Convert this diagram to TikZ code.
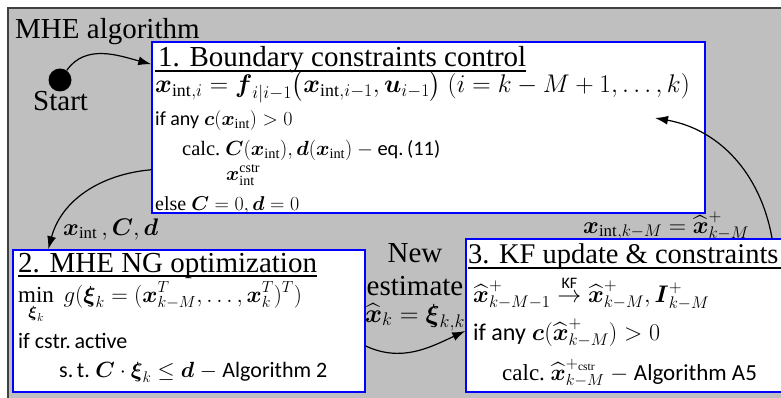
\RequirePackage{fix-cm}
\documentclass[tikz,border=0pt]{standalone}
\usepackage{amsmath}
\usepackage{fontspec}
\setmainfont{Liberation Serif}
\newfontfamily\carl{Carlito}
\usetikzlibrary{arrows.meta}
\newcommand{\bx}{\boldsymbol{x}}
\newcommand{\hx}{\widehat{\boldsymbol{x}}}
\newcommand{\xint}{\boldsymbol{x}_{\mathrm{int}}}
\begin{document}
\begin{tikzpicture}[x=1pt, y=1pt,
    stage/.style={draw=blue, line width=1.5pt, fill=white, inner sep=0pt},
    txt/.style={anchor=base west, inner sep=0pt},
    mid/.style={anchor=base, inner sep=0pt},
    big/.style={font=\fontsize{29}{33}\selectfont},
    flow/.style={-{Latex[length=13pt,width=9pt]}, line width=1.2pt},
    uline/.style={line width=1.2pt}
    ]
\useasboundingbox (0,0) rectangle (781,397);
\clip (0,0) rectangle (781,397);
\fill[black!25] (8,-10) rectangle (800,389);
\draw[black!75, line width=2.5pt] (8,-10) -- (8,389) -- (800,389);

\node[txt, big] (alg) at (15,358) {MHE algorithm};
\node[circle, fill=black, minimum size=23pt, inner sep=0pt] (dot) at (60,317) {};
\node[txt, big] (start) at (33,287) {Start};

% the three stages
\node[stage, minimum width=553pt, minimum height=171pt] (box1) at (428.5,269.5) {};
\node[stage, minimum width=352pt, minimum height=142pt] (box2) at (189,76) {};
\node[stage, minimum width=329pt, minimum height=153pt] (box3) at (630.5,81.5) {};

% stage 1
\node[txt, big] (t1) at (158,330) {1. Boundary constraints control};
\draw[uline] ([xshift=-3pt,yshift=-4pt]t1.base west) -- ([yshift=-4pt]t1.base east);
\node[txt, font=\fontsize{25.5}{28}\selectfont] (b1) at (155,304)
    {$\xint{}_{,i} = \boldsymbol{f}_{i|i-1}\bigl(\xint{}_{,i-1},\boldsymbol{u}_{i-1}\bigr)\ (i=k-M+1,\ldots,k)$};
\node[txt, font=\fontsize{20}{23}\selectfont] (b2) at (155,272)
    {{\carl if any} $\boldsymbol{c}(\xint)>0$};
\node[txt, font=\fontsize{20.5}{23}\selectfont] (b3) at (182,242)
    {calc.\ $\boldsymbol{C}(\xint),\boldsymbol{d}(\xint)-\mbox{\carl eq.\,(11)}$};
\node[txt, font=\fontsize{20}{23}\selectfont] (b4) at (226,217)
    {$\bx^{\mathrm{cstr}}_{\mathrm{int}}$};
\node[txt, font=\fontsize{20}{23}\selectfont] (b5) at (155,187)
    {else\ $\boldsymbol{C}=0,\boldsymbol{d}=0$};

% stage 2
\node[txt, big] (t2) at (18,125) {2. MHE NG optimization};
\draw[uline] ([yshift=-4pt]t2.base west) -- ([yshift=-4pt]t2.base east);
\node[txt, font=\fontsize{23}{26}\selectfont] (c1) at (18,95)
    {$\displaystyle\min_{\boldsymbol{\xi}_k}\ g(\boldsymbol{\xi}_k=(\bx^T_{k-M},\ldots,\bx^T_k)^T)$};
\node[txt, font=\fontsize{22}{25}\selectfont] (c2) at (18,49) {\carl if cstr.\,active};
\node[txt, font=\fontsize{22}{25}\selectfont] (c3) at (59,20)
    {{\carl s.\,t.}\ $\boldsymbol{C}\cdot\boldsymbol{\xi}_k\le\boldsymbol{d}\ -$ {\carl Algorithm 2}};

% stage 3
\node[txt, font=\fontsize{28.5}{33}\selectfont] (t3) at (468,134) {3. KF update \& constraints};
\draw[uline] ([yshift=-5pt]t3.base west) -- ([yshift=-5pt,xshift=20pt]t3.base east);
\node[txt, font=\fontsize{24}{27}\selectfont] (d1) at (473,95)
    {$\hx^+_{k-M-1}\overset{\mbox{\fontsize{16}{18}\selectfont\carl KF}}{\rightarrow}\hx^+_{k-M},\boldsymbol{I}^+_{k-M}$};
\node[txt, font=\fontsize{24}{27}\selectfont] (d2) at (473,57)
    {{\carl if any} $\boldsymbol{c}(\hx^+_{k-M})>0$};
\node[txt, font=\fontsize{23}{26}\selectfont] (d3) at (502,17)
    {calc.\ $\hx^{+_{\mathrm{cstr}}}_{k-M}\ -$ {\carl Algorithm A5}};

% connectors
\coordinate (tip) at (655,279);
\draw[flow] (dot) to[out=55, in=165] ([yshift=-23pt]box1.north west);
\draw[flow] ([yshift=44pt]box1.south west) to[out=185, in=75] ([xshift=36pt]box2.north west);
\draw[flow] ([yshift=-25pt]box2.east) to[out=-25, in=205] ([yshift=-15.5pt]box3.west);
\draw[flow] ([xshift=141.5pt]box3.north) to[out=100, in=-10] (tip);

% connector labels
\node[txt, font=\fontsize{24}{27}\selectfont] (lbl12) at (63,162)
    {$\xint{}\,,\boldsymbol{C},\boldsymbol{d}$};
\node[mid, big] (new) at (415,135) {New};
\node[mid, big] (est) at (415,102) {estimate};
\node[mid, font=\fontsize{26}{29}\selectfont] (lbl23) at (415,75)
    {$\hx_k=\boldsymbol{\xi}_{k,k}$};
\node[txt, font=\fontsize{24}{27}\selectfont] (lbl31) at (583,164)
    {$\xint{}_{,k-M}=\hx^+_{k-M}$};
\end{tikzpicture}
\end{document}
